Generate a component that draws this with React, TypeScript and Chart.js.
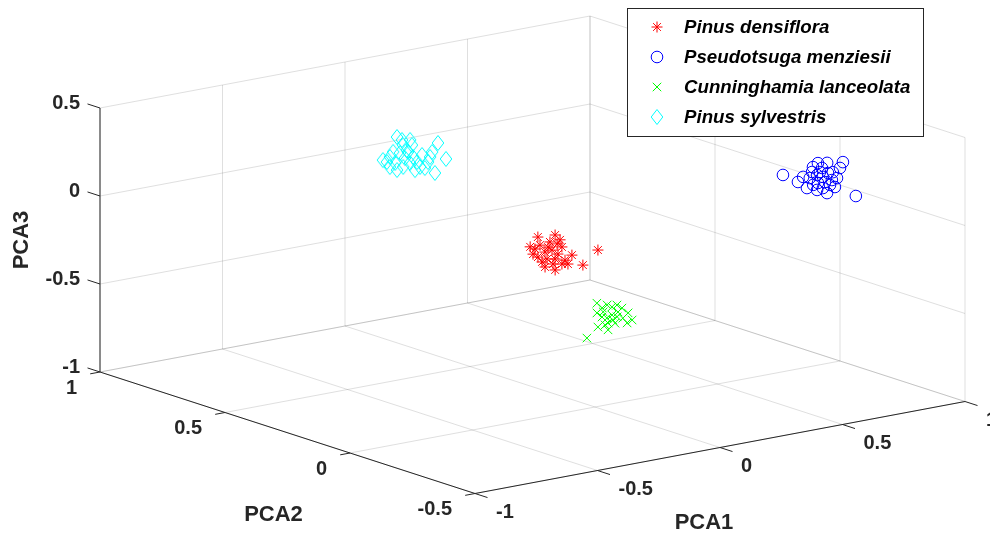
import React, { useEffect, useRef } from 'react';
import { Chart, registerables } from 'chart.js';

Chart.register(...registerables);

// ---------- data (PCA scores per species) ----------
const SPECIES = ['Pinus densiflora', 'Pseudotsuga menziesii', 'Cunninghamia lanceolata', 'Pinus sylvestris'];

const PD_PCA1 = [0.114, 0.073, -0.172, -0.020, -0.183, -0.143, -0.102, -0.143, -0.041, -0.073, -0.033, -0.053, -0.090, -0.090, -0.114, -0.061, 0.000, -0.033, -0.061, -0.081, -0.033, 0.012, -0.155, -0.049, -0.061, -0.151, -0.049];
const PD_PCA2 = [0.10, 0.12, 0.06, 0.14, 0.08, 0.10, 0.12, 0.06, 0.14, 0.08, 0.10, 0.12, 0.06, 0.14, 0.08, 0.10, 0.12, 0.06, 0.14, 0.08, 0.10, 0.12, 0.06, 0.14, 0.08, 0.10, 0.12];
const PD_PCA3 = [-0.184, -0.268, -0.017, -0.082, -0.079, -0.111, -0.109, -0.110, -0.116, -0.091, -0.128, -0.150, -0.135, -0.189, -0.166, -0.189, -0.221, -0.156, -0.253, -0.237, -0.225, -0.246, -0.163, -0.143, -0.071, -0.138, -0.230];

const PM_PCA1 = [0.461, 0.779, 0.665, 0.563, 0.523, 0.559, 0.604, 0.563, 0.661, 0.621, 0.645, 0.685, 0.653, 0.641, 0.604, 0.604, 0.653, 0.620, 0.714, 0.580, 0.641, 0.591, 0.571, 0.694, 0.564, 0.624, 0.702, 0.539];
const PM_PCA2 = [-0.30, -0.28, -0.34, -0.26, -0.32, -0.30, -0.28, -0.34, -0.26, -0.32, -0.30, -0.28, -0.34, -0.26, -0.32, -0.30, -0.28, -0.34, -0.26, -0.32, -0.30, -0.28, -0.34, -0.26, -0.32, -0.30, -0.28, -0.34];
const PM_PCA3 = [0.336, 0.124, 0.374, 0.251, 0.318, 0.236, 0.334, 0.395, 0.305, 0.372, 0.299, 0.284, 0.344, 0.270, 0.297, 0.253, 0.236, 0.284, 0.183, 0.229, 0.186, 0.275, 0.342, 0.200, 0.262, 0.219, 0.246, 0.351];

const CL_PCA1 = [-0.135, -0.074, -0.135, -0.032, -0.073, -0.033, 0.008, -0.033, 0.074, 0.029, 0.029, -0.053, -0.094, 0.008, -0.032, -0.049, 0.000, -0.131, -0.008, -0.089, -0.008, 0.032, -0.070, -0.020];
const CL_PCA2 = [-0.10, -0.08, -0.14, -0.06, -0.12, -0.10, -0.08, -0.14, -0.06, -0.12, -0.10, -0.08, -0.14, -0.06, -0.12, -0.10, -0.08, -0.14, -0.06, -0.12, -0.10, -0.08, -0.14, -0.06];
const CL_PCA3 = [-0.527, -0.354, -0.366, -0.401, -0.346, -0.377, -0.386, -0.365, -0.457, -0.458, -0.484, -0.438, -0.406, -0.452, -0.424, -0.464, -0.487, -0.447, -0.532, -0.381, -0.412, -0.467, -0.423, -0.501];

const PS_PCA1 = [-0.298, -0.253, -0.278, -0.090, -0.175, -0.098, -0.335, -0.380, -0.286, -0.326, -0.286, -0.245, -0.294, -0.192, -0.236, -0.204, -0.151, -0.184, -0.257, -0.293, -0.245, -0.204, -0.225, -0.122, -0.334, -0.278, -0.237, -0.368, -0.155, -0.265];
const PS_PCA2 = [0.50, 0.52, 0.46, 0.54, 0.48, 0.50, 0.52, 0.46, 0.54, 0.48, 0.50, 0.52, 0.46, 0.54, 0.48, 0.50, 0.52, 0.46, 0.54, 0.48, 0.50, 0.52, 0.46, 0.54, 0.48, 0.50, 0.52, 0.46, 0.54, 0.48];
const PS_PCA3 = [0.382, 0.315, 0.349, 0.275, 0.274, 0.205, 0.251, 0.280, 0.247, 0.251, 0.288, 0.239, 0.314, 0.222, 0.233, 0.187, 0.192, 0.166, 0.165, 0.220, 0.220, 0.160, 0.205, 0.204, 0.316, 0.360, 0.282, 0.248, 0.224, 0.366];

// axis limits and ticks
const X_LIM = [-1, 1];
const Y_LIM = [-0.5, 1];
const Z_LIM = [-1, 0.5];
const X_TICKS = [-1, -0.5, 0, 0.5, 1];
const Y_TICKS = [-0.5, 0, 0.5, 1];
const Z_TICKS = [-1, -0.5, 0, 0.5];
const X_TICK_LABELS = ['-1', '-0.5', '0', '0.5', '1'];
const Y_TICK_LABELS = ['-0.5', '0', '0.5', '1'];
const Z_TICK_LABELS = ['-1', '-0.5', '0', '0.5'];
const AXIS_TITLES = ['PCA1', 'PCA2', 'PCA3'];

// ---------- view (orthographic camera) ----------
const W = 990;
const H = 533;
const VIEW = {
  origin: [595, 231],
  ex: [245, -46],
  ey: [-250, -81],
  ez: [0, -176],
};
const project = (x: number, y: number, z: number): [number, number] => [
  VIEW.origin[0] + VIEW.ex[0] * x + VIEW.ey[0] * y + VIEW.ez[0] * z,
  VIEW.origin[1] + VIEW.ex[1] * x + VIEW.ey[1] * y + VIEW.ez[1] * z,
];

const RED = '#ff0000';
const BLUE = '#0000ff';
const GREEN = '#00ff00';
const CYAN = '#00ffff';
const AXIS_COLOR = '#262626';
const GRID_COLOR = 'rgba(38,38,38,0.15)';
const FONT = '"Liberation Sans", Arial, Helvetica, sans-serif';

function makeDiamond(color: string): HTMLCanvasElement {
  const c = document.createElement('canvas');
  c.width = 16;
  c.height = 18;
  const g = c.getContext('2d')!;
  g.strokeStyle = color;
  g.lineWidth = 1;
  g.beginPath();
  g.moveTo(8, 1.5);
  g.lineTo(13.8, 9);
  g.lineTo(8, 16.5);
  g.lineTo(2.2, 9);
  g.closePath();
  g.stroke();
  return c;
}

export default function App() {
  const ref = useRef<HTMLCanvasElement>(null);

  useEffect(() => {
    const canvas = ref.current!;
    const diamond = makeDiamond(CYAN);

    const toXY = (a: number[], b: number[], c: number[]) =>
      a.map((v, i) => {
        const p = project(v, b[i], c[i]);
        return { x: p[0], y: p[1] };
      });

    const pixel = (chart: any, x: number, y: number, z: number): [number, number] => {
      const p = project(x, y, z);
      return [chart.scales.x.getPixelForValue(p[0]), chart.scales.y.getPixelForValue(p[1])];
    };

    const axes3d = {
      id: 'axes3d',
      beforeDatasetsDraw(chart: any) {
        const ctx = chart.ctx as CanvasRenderingContext2D;
        const pt = (x: number, y: number, z: number) => pixel(chart, x, y, z);
        const line = (a: [number, number], b: [number, number]) => {
          ctx.beginPath();
          ctx.moveTo(a[0], a[1]);
          ctx.lineTo(b[0], b[1]);
          ctx.stroke();
        };
        const [x0, x1] = X_LIM;
        const [y0, y1] = Y_LIM;
        const [z0, z1] = Z_LIM;
        ctx.save();
        ctx.lineWidth = 1;
        ctx.strokeStyle = GRID_COLOR;
        // floor
        for (const x of X_TICKS) line(pt(x, y0, z0), pt(x, y1, z0));
        for (const y of Y_TICKS) line(pt(x0, y, z0), pt(x1, y, z0));
        // back wall y = max
        for (const x of X_TICKS) line(pt(x, y1, z0), pt(x, y1, z1));
        for (const z of Z_TICKS) line(pt(x0, y1, z), pt(x1, y1, z));
        // back wall x = max
        for (const y of Y_TICKS) line(pt(x1, y, z0), pt(x1, y, z1));
        for (const z of Z_TICKS) line(pt(x1, y0, z), pt(x1, y1, z));

        // axis lines
        ctx.strokeStyle = AXIS_COLOR;
        line(pt(x0, y1, z0), pt(x0, y1, z1));
        line(pt(x0, y1, z0), pt(x0, y0, z0));
        line(pt(x0, y0, z0), pt(x1, y0, z0));
        // tick marks
        for (const z of Z_TICKS) line(pt(x0, y1, z), pt(x0, y1 + 0.05, z));
        for (const y of Y_TICKS) line(pt(x0, y, z0), pt(x0 - 0.04, y, z0));
        for (const x of X_TICKS) line(pt(x, y0, z0), pt(x, y0 - 0.05, z0));

        // tick labels
        ctx.fillStyle = AXIS_COLOR;
        ctx.font = `bold 20px ${FONT}`;
        ctx.textBaseline = 'middle';
        ctx.textAlign = 'right';
        Z_TICKS.forEach((z, i) => {
          const p = pt(x0, y1, z);
          ctx.fillText(Z_TICK_LABELS[i], p[0] - 20, p[1] - 5);
        });
        Y_TICKS.forEach((y, i) => {
          const p = pt(x0, y, z0);
          ctx.fillText(Y_TICK_LABELS[i], p[0] - 23, p[1] + 16);
        });
        ctx.textAlign = 'left';
        X_TICKS.forEach((x, i) => {
          const p = pt(x, y0, z0);
          ctx.fillText(X_TICK_LABELS[i], p[0] + 21, p[1] + 19);
        });

        // axis titles
        ctx.font = `bold 22px ${FONT}`;
        ctx.textAlign = 'center';
        const t1 = pt((x0 + x1) / 2, y0, z0);
        ctx.fillText(AXIS_TITLES[0], t1[0] - 16, t1[1] + 75);
        const t2 = pt(x0, (y0 + y1) / 2, z0);
        ctx.fillText(AXIS_TITLES[1], t2[0] - 14, t2[1] + 82);
        const t3 = pt(x0, y1, (z0 + z1) / 2);
        ctx.save();
        ctx.translate(t3[0] - 78, t3[1]);
        ctx.rotate(-Math.PI / 2);
        ctx.fillText(AXIS_TITLES[2], 0, 0);
        ctx.restore();
        ctx.restore();
      },
    };

    const drawMarker = (ctx: CanvasRenderingContext2D, style: string, x: number, y: number, color: string) => {
      ctx.save();
      ctx.strokeStyle = color;
      ctx.lineWidth = 1;
      ctx.beginPath();
      if (style === 'star') {
        const r = 5.5;
        const d = r * Math.SQRT1_2;
        ctx.moveTo(x - r, y); ctx.lineTo(x + r, y);
        ctx.moveTo(x, y - r); ctx.lineTo(x, y + r);
        ctx.moveTo(x - d, y - d); ctx.lineTo(x + d, y + d);
        ctx.moveTo(x - d, y + d); ctx.lineTo(x + d, y - d);
        ctx.stroke();
      } else if (style === 'circle') {
        ctx.arc(x, y, 5.8, 0, Math.PI * 2);
        ctx.stroke();
      } else if (style === 'crossRot') {
        const d = 6 * Math.SQRT1_2;
        ctx.moveTo(x - d, y - d); ctx.lineTo(x + d, y + d);
        ctx.moveTo(x - d, y + d); ctx.lineTo(x + d, y - d);
        ctx.stroke();
      } else {
        ctx.drawImage(diamond, x - diamond.width / 2, y - diamond.height / 2);
      }
      ctx.restore();
    };

    const legendBox = {
      id: 'legendBox',
      afterDraw(chart: any) {
        const ctx = chart.ctx as CanvasRenderingContext2D;
        ctx.save();
        ctx.fillStyle = '#ffffff';
        ctx.fillRect(627.5, 8.5, 296, 128);
        ctx.strokeStyle = AXIS_COLOR;
        ctx.lineWidth = 1;
        ctx.strokeRect(627.5, 8.5, 296, 128);
        const styles = ['star', 'circle', 'crossRot', 'diamond'];
        const colors = [RED, BLUE, GREEN, CYAN];
        ctx.font = `italic bold 18.7px ${FONT}`;
        ctx.fillStyle = '#000000';
        ctx.textAlign = 'left';
        ctx.textBaseline = 'middle';
        SPECIES.forEach((name, i) => {
          const yy = 27 + i * 30;
          drawMarker(ctx, styles[i], 657, yy, colors[i]);
          ctx.fillText(name, 684, yy + 0.5);
        });
        ctx.restore();
      },
    };

    const chart = new Chart(canvas, {
      type: 'scatter',
      data: {
        datasets: [
          {
            label: SPECIES[0],
            data: toXY(PD_PCA1, PD_PCA2, PD_PCA3),
            pointStyle: 'star',
            pointRadius: 5.5,
            pointHoverRadius: 5.5,
            pointBorderColor: RED,
            pointBackgroundColor: 'transparent',
            pointBorderWidth: 1,
            borderColor: RED,
            backgroundColor: 'transparent',
          },
          {
            label: SPECIES[1],
            data: toXY(PM_PCA1, PM_PCA2, PM_PCA3),
            pointStyle: 'circle',
            pointRadius: 5.8,
            pointHoverRadius: 5.8,
            pointBorderColor: BLUE,
            pointBackgroundColor: 'transparent',
            pointBorderWidth: 1,
            borderColor: BLUE,
            backgroundColor: 'transparent',
          },
          {
            label: SPECIES[2],
            data: toXY(CL_PCA1, CL_PCA2, CL_PCA3),
            pointStyle: 'crossRot',
            pointRadius: 6,
            pointHoverRadius: 6,
            pointBorderColor: GREEN,
            pointBackgroundColor: 'transparent',
            pointBorderWidth: 1,
            borderColor: GREEN,
            backgroundColor: 'transparent',
          },
          {
            label: SPECIES[3],
            data: toXY(PS_PCA1, PS_PCA2, PS_PCA3),
            pointStyle: diamond as any,
            pointRadius: 7,
            pointHoverRadius: 7,
            pointBorderColor: CYAN,
            pointBackgroundColor: 'transparent',
            pointBorderWidth: 1,
            borderColor: CYAN,
            backgroundColor: 'transparent',
          },
        ],
      },
      options: {
        responsive: false,
        maintainAspectRatio: false,
        animation: false,
        events: [],
        devicePixelRatio: 1,
        layout: { padding: 0, autoPadding: false },
        scales: {
          x: { type: 'linear', min: 0, max: W, display: false },
          y: { type: 'linear', min: 0, max: H, reverse: true, display: false },
        },
        plugins: {
          legend: { display: false },
          tooltip: { enabled: false },
        },
      },
      plugins: [axes3d, legendBox],
    } as any);

    return () => chart.destroy();
  }, []);

  return (
    <div style={{ position: 'fixed', left: 0, top: 0, width: W, height: H, background: '#ffffff' }}>
      <canvas ref={ref} width={W} height={H} style={{ display: 'block', width: W, height: H }} />
    </div>
  );
}
